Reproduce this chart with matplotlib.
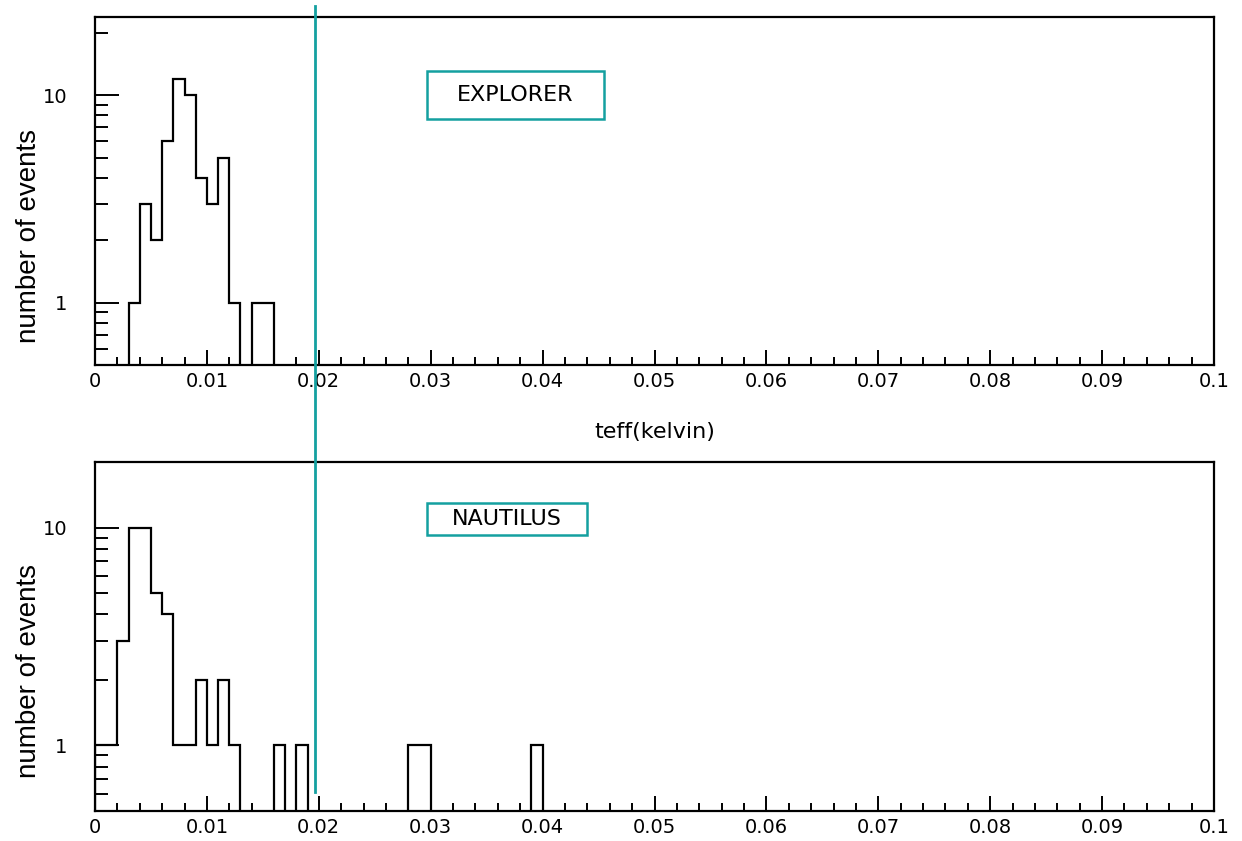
import numpy as np
import matplotlib
matplotlib.use("Agg")
import matplotlib.pyplot as plt
from matplotlib.patches import Rectangle
from matplotlib import transforms
from matplotlib.ticker import FixedLocator, NullFormatter

# counts per 0.001 K bin, starting at teff = 0
bin_width = 0.001
explorer_counts = [0, 0, 0, 1, 3, 2, 6, 12, 10, 4, 3, 5, 1, 0, 1, 1]
nautilus_counts = [1, 1, 3, 10, 10, 5, 4, 1, 1, 2, 1, 2, 1, 0, 0, 0,
                   1, 0, 1, 0, 0, 0, 0, 0, 0, 0, 0, 0, 1, 1, 0, 0,
                   0, 0, 0, 0, 0, 0, 0, 1]
cut_teff = 0.0197

xticks = [0, 0.01, 0.02, 0.03, 0.04, 0.05, 0.06, 0.07, 0.08, 0.09, 0.1]
xtick_labels = ["0", "0.01", "0.02", "0.03", "0.04", "0.05", "0.06",
                "0.07", "0.08", "0.09", "0.1"]
xminor = [i * 0.002 for i in range(51)]
yticks = [1, 10]
ytick_labels = ["1", "10"]
yminor = [0.6, 0.7, 0.8, 0.9, 2, 3, 4, 5, 6, 7, 8, 9, 20]

teal = "#14a0a0"
W, H = 1242, 841

fig = plt.figure(figsize=(W / 100, H / 100), dpi=100)
ax1 = fig.add_axes([95 / W, 1 - 365 / H, 1119 / W, 348 / H])
ax2 = fig.add_axes([95 / W, 1 - 811 / H, 1119 / W, 349 / H])


def hist_panel(ax, counts, ymax, name, box):
    edges = np.arange(len(counts) + 1) * bin_width
    ax.set_yscale("log")
    ax.stairs(counts, edges, color="black", linewidth=1.6)
    ax.set_xlim(0, 0.1)
    ax.set_ylim(0.5, ymax)

    ax.set_xticks(xticks)
    ax.set_xticklabels(xtick_labels)
    ax.xaxis.set_minor_locator(FixedLocator(xminor))
    ax.yaxis.set_major_locator(FixedLocator(yticks))
    ax.set_yticklabels(ytick_labels)
    ax.yaxis.set_minor_locator(FixedLocator(yminor))
    ax.yaxis.set_minor_formatter(NullFormatter())

    ax.tick_params(axis="x", which="major", direction="in", length=11,
                   width=1.4, pad=5, labelsize=14)
    ax.tick_params(axis="x", which="minor", direction="in", length=6,
                   width=1.4)
    ax.tick_params(axis="y", which="major", direction="in", length=17,
                   width=1.4, pad=20, labelsize=14)
    ax.tick_params(axis="y", which="minor", direction="in", length=9,
                   width=1.4)
    for s in ax.spines.values():
        s.set_linewidth(1.6)

    ax.set_ylabel("number of events", fontsize=20, family="Liberation Sans")

    x0, y0, x1, y1 = box
    ax.add_patch(Rectangle((x0, y0), x1 - x0, y1 - y0, transform=ax.transAxes,
                           fill=False, edgecolor=teal, linewidth=1.8))
    ax.text((x0 + x1) / 2, (y0 + y1) / 2, name, transform=ax.transAxes,
            ha="center", va="center", fontsize=16)


hist_panel(ax1, explorer_counts, 23.8, "EXPLORER", (0.2967, 0.707, 0.4549, 0.845))
hist_panel(ax2, nautilus_counts, 20, "NAUTILUS", (0.2967, 0.791, 0.4397, 0.8825))

ax1.yaxis.set_label_coords(-0.047, 0.37)
ax2.yaxis.set_label_coords(-0.047, 0.40)

ax1.set_xlabel("teff(kelvin)", fontsize=16)
ax1.xaxis.set_label_coords(0.5, -0.164)

# threshold line running through both panels
trans = transforms.blended_transform_factory(ax1.transData, fig.transFigure)
fig.add_artist(plt.Line2D([cut_teff, cut_teff], [1 - 6 / H, 1 - 792 / H],
                          transform=trans, color=teal, linewidth=2))

fig.savefig("out.png", dpi=100)
